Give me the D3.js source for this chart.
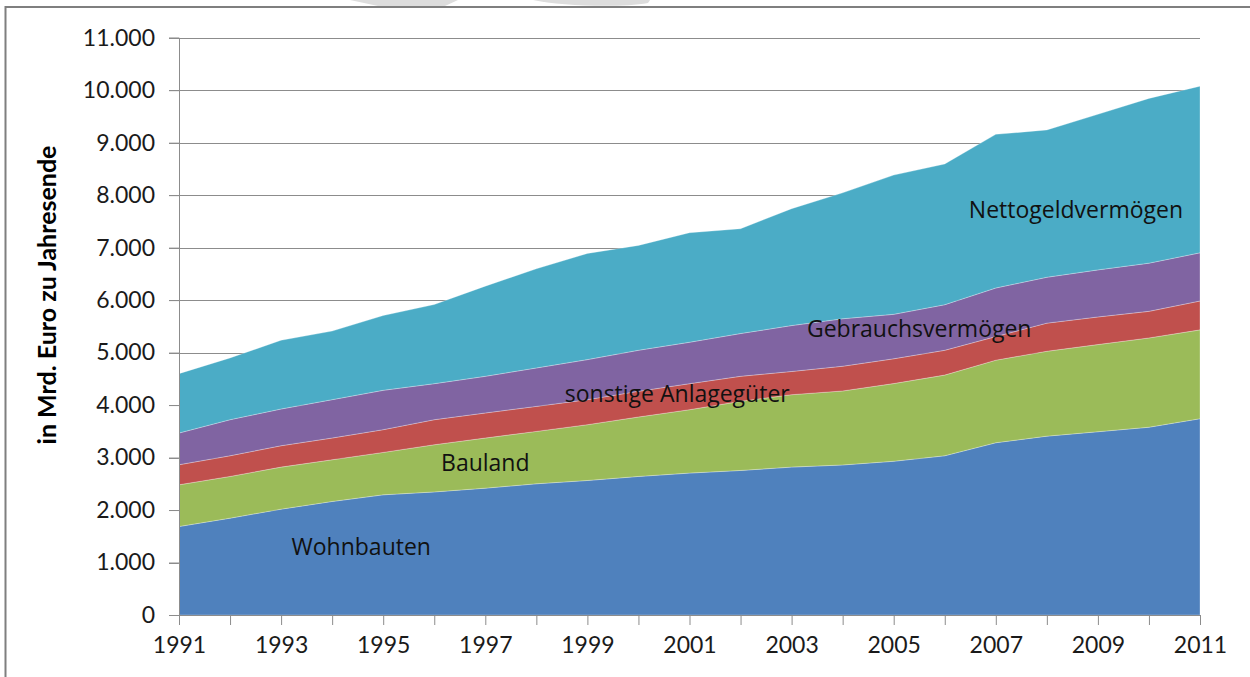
<!DOCTYPE html>
<html>
<head>
<meta charset="utf-8">
<script src="https://cdn.jsdelivr.net/npm/d3@7"></script>
<style>
  body { margin: 0; background: #fff; }
  svg { display: block; font-family: Lato, "Open Sans", sans-serif; }
</style>
</head>
<body>
<div id="chart"></div>
<script>
// years on the x axis
const years = d3.range(1991, 2012);

// values per category in Mrd. Euro
const wohnbauten = [1686, 1845, 2017, 2163, 2290, 2345, 2417, 2500, 2563, 2640, 2704, 2754, 2818, 2859, 2929, 3034, 3282, 3408, 3492, 3578, 3740];
const bauland = [795, 795, 801, 795, 808, 899, 955, 998, 1063, 1133, 1208, 1317, 1380, 1410, 1481, 1538, 1573, 1617, 1661, 1701, 1693];
const sonstige = [382, 394, 407, 414, 433, 477, 477, 477, 477, 489, 496, 477, 442, 471, 472, 472, 450, 536, 526, 507, 550];
const gebrauch = [604, 687, 700, 731, 750, 687, 699, 732, 763, 782, 789, 815, 875, 905, 847, 868, 926, 874, 897, 918, 918];
const netto = [1132, 1177, 1310, 1307, 1425, 1508, 1718, 1890, 2023, 1998, 2087, 1997, 2227, 2399, 2653, 2682, 2927, 2807, 2964, 3139, 3175];

const seriesKeys = ["Wohnbauten", "Bauland", "sonstige Anlagegüter", "Gebrauchsvermögen", "Nettogeldvermögen"];
const seriesValues = [wohnbauten, bauland, sonstige, gebrauch, netto];
const colors = ["#4f81bd", "#9bbb59", "#c0504d", "#8064a2", "#4bacc6"];

const yTicks = d3.range(0, 11001, 1000);
const xLabelYears = years.filter(y => (y - 1991) % 2 === 0);

// label positions given as [year, value] so they go through the scales
const labels = [
  { text: "Wohnbauten", year: 1994.57, value: 1260 },
  { text: "Bauland", year: 1997.0, value: 2863 },
  { text: "sonstige Anlagegüter", year: 2000.76, value: 4179 },
  { text: "Gebrauchsvermögen", year: 2005.5, value: 5420 },
  { text: "Nettogeldvermögen", year: 2008.57, value: 7691 },
];

// build rows for d3.stack
const rows = years.map((year, i) => {
  const row = { year };
  seriesKeys.forEach((k, j) => row[k] = seriesValues[j][i]);
  return row;
});

const width = 1250;
const height = 677;
const margin = { top: 37.7, right: 50, bottom: 62, left: 179 };

const svg = d3.select("#chart")
  .append("svg")
  .attr("width", width)
  .attr("height", height);

// outer frame and faint watermark at the top edge
svg.append("path")
  .attr("d", "M350,0 L378,6 L445,6 L458,0 Z")
  .attr("fill", "#dddddd");
svg.append("path")
  .attr("d", "M533,0 C560,6 620,8 648,3 L650,0 Z")
  .attr("fill", "#dddddd");
svg.append("rect")
  .attr("x", 5.5)
  .attr("y", 7)
  .attr("width", 1300)
  .attr("height", 700)
  .attr("fill", "none")
  .attr("stroke", "#7f7f7f")
  .attr("stroke-width", 2);

const xScale = d3.scaleLinear()
  .domain([1991, 2011])
  .range([margin.left, width - margin.right]);

const yScale = d3.scaleLinear()
  .domain([0, 11000])
  .range([height - margin.bottom, margin.top]);

// grid lines
svg.append("g")
  .selectAll("line")
  .data(yTicks)
  .enter()
  .append("line")
  .attr("x1", margin.left - 10)
  .attr("x2", xScale(2011))
  .attr("y1", d => Math.round(yScale(d)) + 0.5)
  .attr("y2", d => Math.round(yScale(d)) + 0.5)
  .attr("stroke", "#8c8c8c")
  .attr("stroke-width", 1);

// stacked areas
const stack = d3.stack().keys(seriesKeys);
const stacked = stack(rows);

const area = d3.area()
  .x(d => xScale(d.data.year))
  .y0(d => yScale(d[0]))
  .y1(d => yScale(d[1]));

svg.append("g")
  .selectAll("path")
  .data(stacked)
  .enter()
  .append("path")
  .attr("d", area)
  .attr("fill", (d, i) => colors[i])
  .attr("stroke", "rgba(255,255,255,0.35)")
  .attr("stroke-width", 0.8);

// y axis
svg.append("g")
  .attr("transform", `translate(${margin.left},0)`)
  .call(d3.axisLeft(yScale).tickValues(yTicks).tickSize(10).tickPadding(14)
    .tickFormat(d => d3.format(",")(d).replace(/,/g, ".")))
  .call(g => g.select(".domain").attr("stroke", "#8c8c8c"))
  .call(g => g.selectAll(".tick line").attr("stroke", "#8c8c8c"))
  .call(g => g.selectAll("text")
    .attr("font-family", "Lato, sans-serif")
    .attr("font-size", 23)
    .attr("fill", "#1a1a1a"));

// x axis
svg.append("g")
  .attr("transform", `translate(0,${yScale(0)})`)
  .call(d3.axisBottom(xScale).tickValues(years).tickSize(10).tickPadding(12)
    .tickFormat(d => xLabelYears.includes(d) ? d : ""))
  .call(g => g.select(".domain").attr("stroke", "#8c8c8c"))
  .call(g => g.selectAll(".tick line").attr("stroke", "#8c8c8c"))
  .call(g => g.selectAll("text")
    .attr("font-family", "Lato, sans-serif")
    .attr("font-size", 23)
    .attr("fill", "#1a1a1a"));

// y axis title
svg.append("text")
  .attr("transform", `translate(56,295) rotate(-90)`)
  .attr("text-anchor", "middle")
  .attr("font-weight", "bold")
  .attr("font-size", 25)
  .attr("fill", "#000")
  .text("in Mrd. Euro zu Jahresende");

// series labels inside the areas
svg.append("g")
  .selectAll("text")
  .data(labels)
  .enter()
  .append("text")
  .attr("x", d => xScale(d.year))
  .attr("y", d => yScale(d.value))
  .attr("text-anchor", "middle")
  .attr("dominant-baseline", "middle")
  .attr("font-family", "'Open Sans', sans-serif")
  .attr("font-size", 23)
  .attr("fill", "#111")
  .text(d => d.text);
</script>
</body>
</html>
